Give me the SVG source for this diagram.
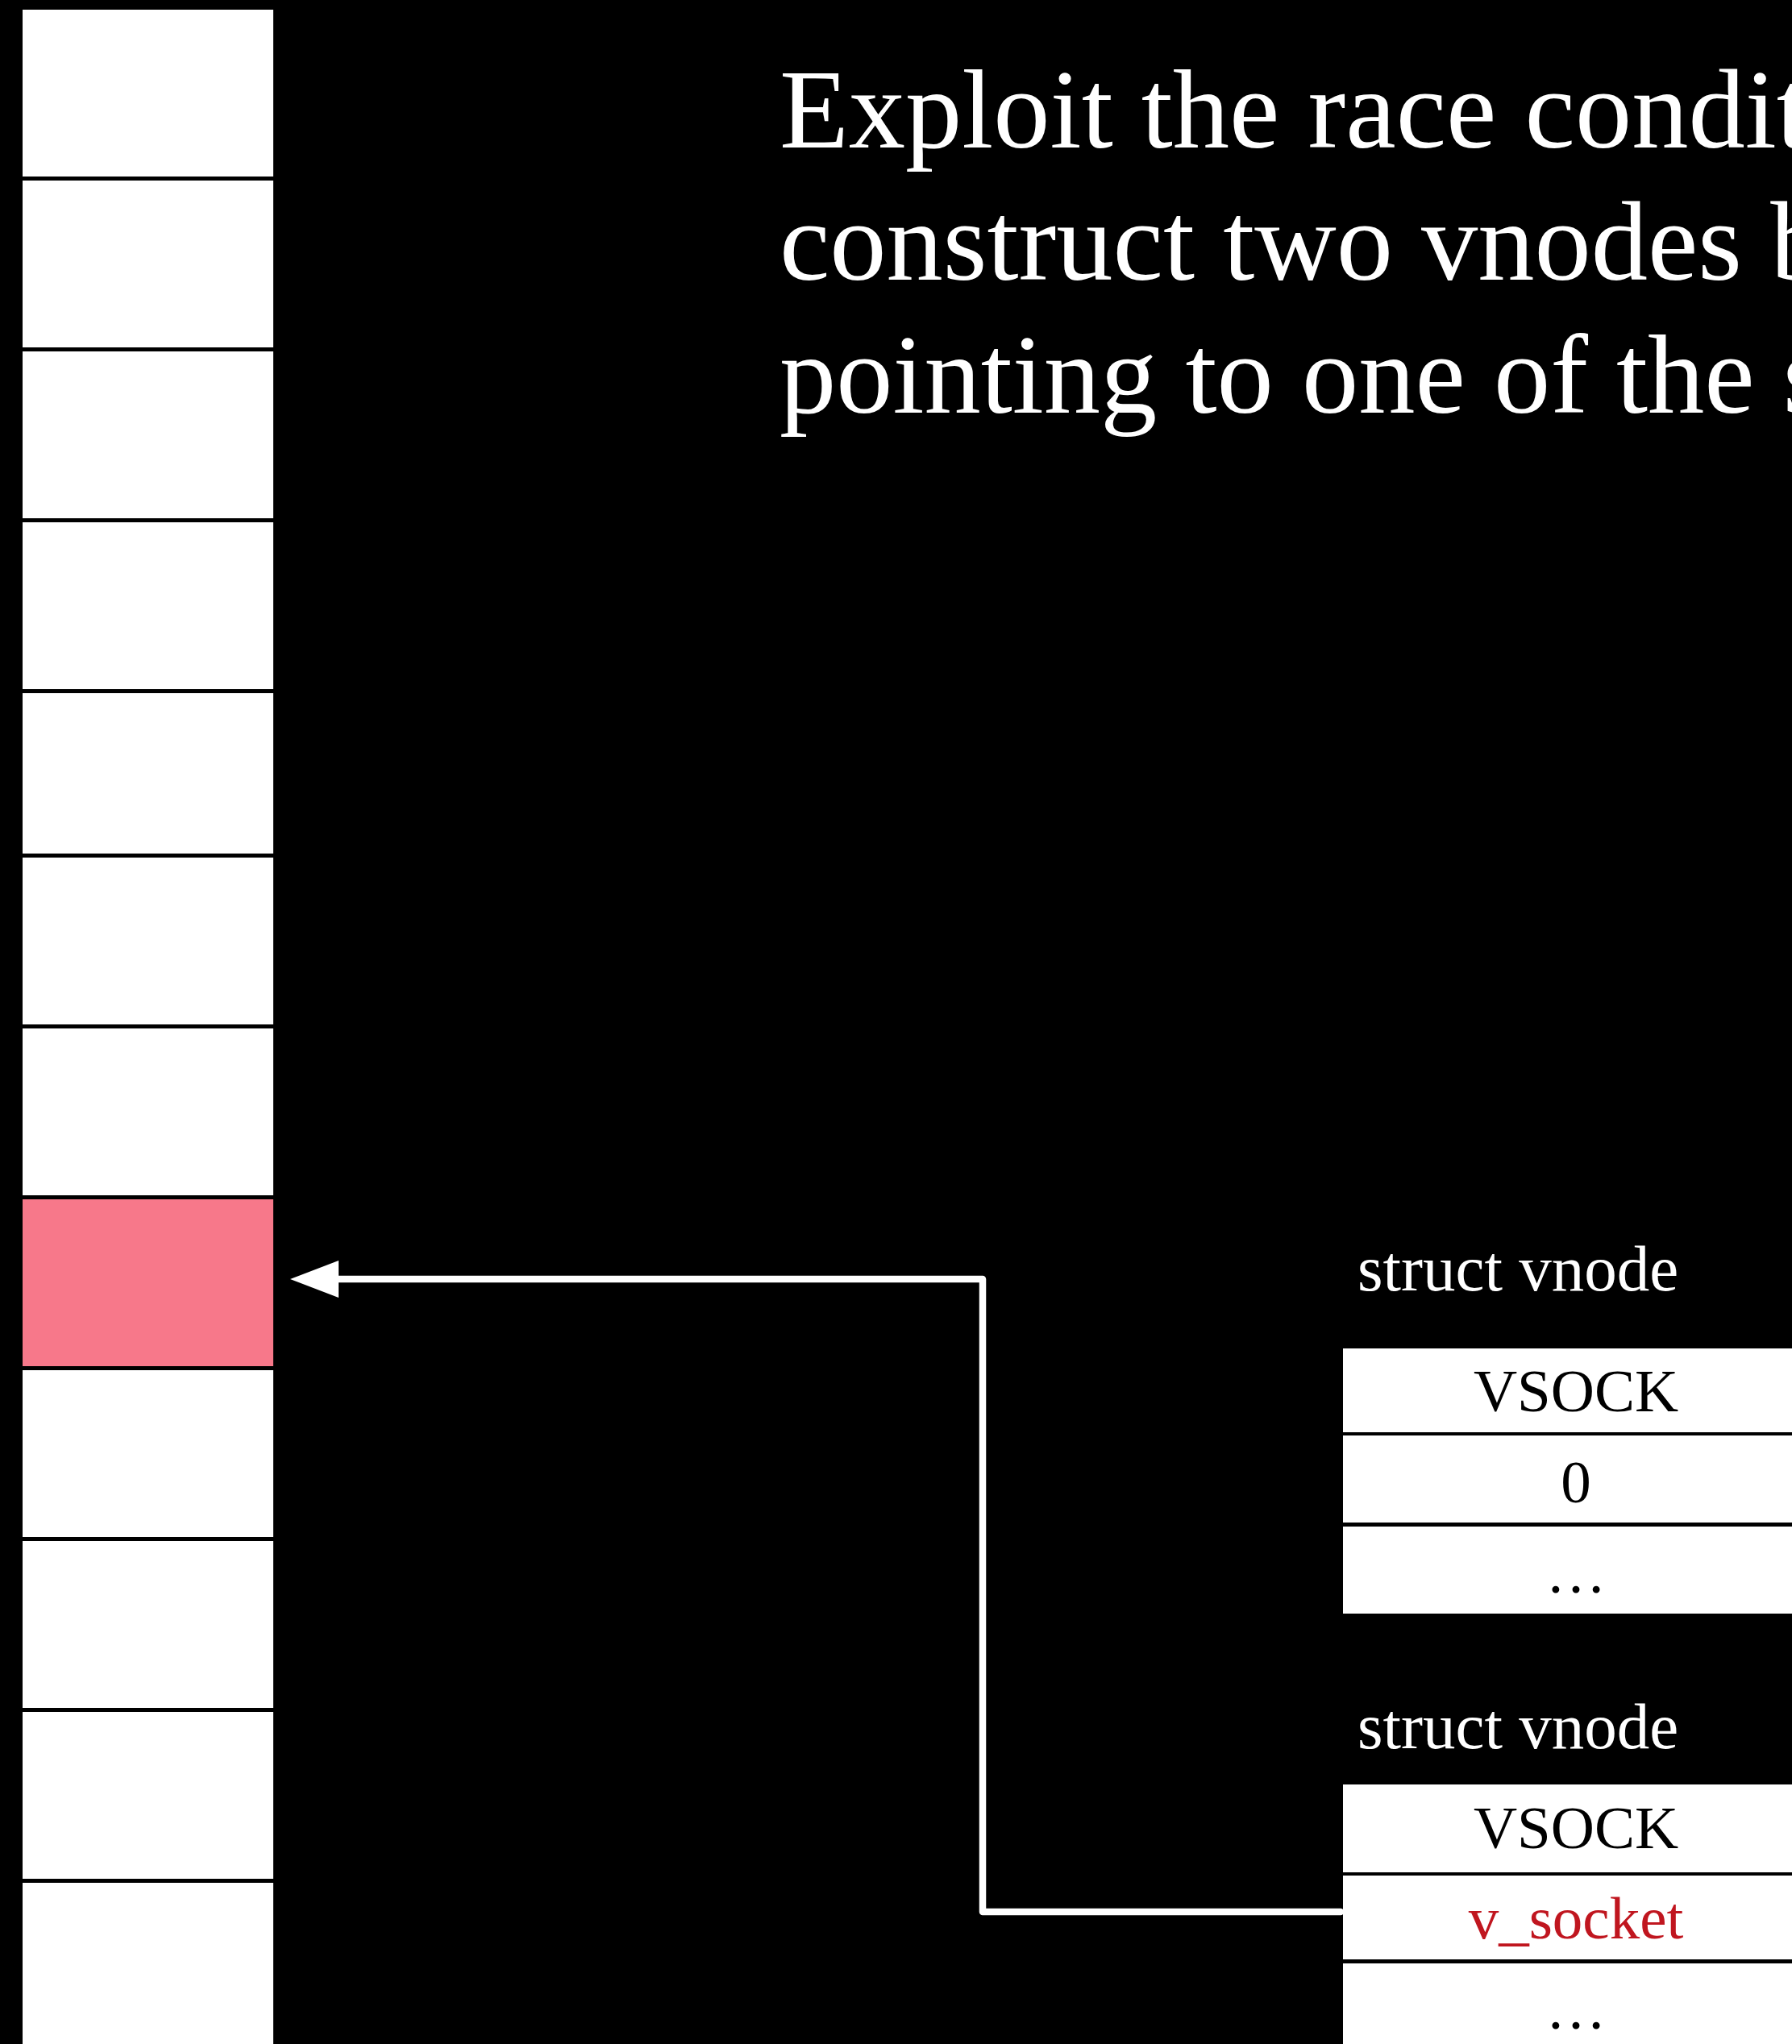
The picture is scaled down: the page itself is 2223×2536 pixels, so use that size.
<svg xmlns="http://www.w3.org/2000/svg" width="2223" height="2536" viewBox="0 0 2223 2536">
<style>
.cell{fill:#ffffff;}
.hot{fill:#f7788a;}
.row{fill:#ffffff;}
.title{font-family:"Liberation Serif","Times New Roman",serif;font-size:140.5px;fill:#ffffff;}
.lbl{font-family:"Liberation Serif","Times New Roman",serif;font-size:81px;fill:#ffffff;}
.fld{font-family:"Liberation Serif","Times New Roman",serif;font-size:75px;fill:#000000;text-anchor:middle;}
.red{fill:#c0161f;}
.conn{fill:none;stroke:#ffffff;stroke-width:8.5;stroke-linecap:round;stroke-linejoin:round;}
</style>
<defs>
<marker id="head" markerUnits="userSpaceOnUse" viewBox="0 -23 60 46" refX="0" refY="0" markerWidth="60" markerHeight="46" orient="auto" overflow="visible">
<path d="M0,-23 L60,0 L0,23 Z" fill="#ffffff"/>
</marker>
</defs>
<rect x="0" y="0" width="2223" height="2536" fill="#000000"/>

<g id="memory-column">
<rect class="cell" x="28" y="12" width="311" height="207"/>
<rect class="cell" x="28" y="224" width="311" height="207"/>
<rect class="cell" x="28" y="436" width="311" height="207"/>
<rect class="cell" x="28" y="648" width="311" height="207"/>
<rect class="cell" x="28" y="860" width="311" height="199"/>
<rect class="cell" x="28" y="1064" width="311" height="207"/>
<rect class="cell" x="28" y="1276" width="311" height="207"/>
<rect id="target-cell" class="hot" x="28" y="1488" width="311" height="207"/>
<rect class="cell" x="28" y="1700" width="311" height="207"/>
<rect class="cell" x="28" y="1912" width="311" height="207"/>
<rect class="cell" x="28" y="2124" width="311" height="207"/>
<rect class="cell" x="28" y="2336" width="311" height="207"/>
</g>

<g id="title">
<text class="title" x="967" y="183">Exploit the race condit</text>
<text class="title" x="967" y="347">construct two vnodes b</text>
<text class="title" x="967" y="512">pointing to one of the s</text>
</g>

<g id="vnode1">
<text class="lbl" x="1684" y="1601">struct vnode</text>
<rect class="row" x="1666" y="1673" width="578" height="104"/>
<rect class="row" x="1666" y="1781" width="578" height="108"/>
<rect class="row" x="1666" y="1894" width="578" height="108"/>
<text class="fld" x="1955" y="1751">VSOCK</text>
<text class="fld" x="1955" y="1864">0</text>
<text class="fld" x="1955" y="1976">…</text>
</g>

<g id="vnode2">
<text class="lbl" x="1684" y="2169">struct vnode</text>
<rect class="row" x="1666" y="2214" width="578" height="109"/>
<rect class="row" x="1666" y="2327" width="578" height="104"/>
<rect class="row" x="1666" y="2436" width="578" height="110"/>
<text class="fld" x="1955" y="2293">VSOCK</text>
<text class="fld red" x="1955" y="2405">v_socket</text>
<text class="fld" x="1955" y="2517">…</text>
</g>

<g id="connectors">
<path class="conn" d="M1663,2372 H1219 V1587 H420" marker-end="url(#head)"/>
</g>
</svg>
